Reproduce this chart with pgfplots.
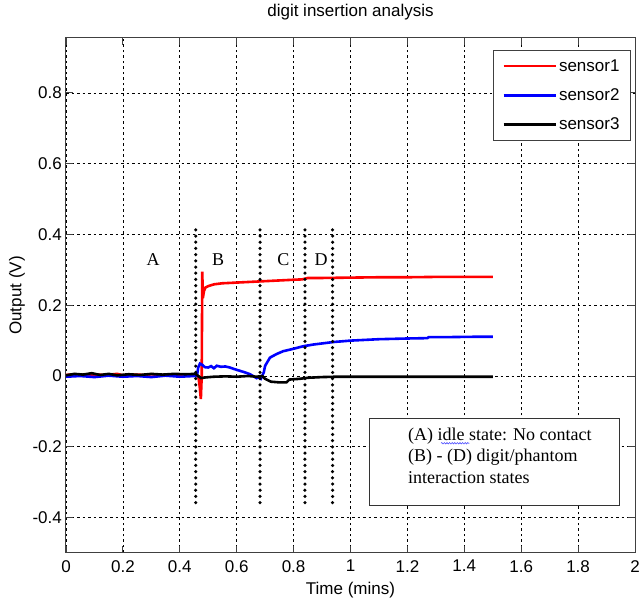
\documentclass[border=0pt]{standalone}
\usepackage{fontspec}
\setmainfont{Liberation Sans}
\newfontfamily\timesfont{Liberation Serif}
\usepackage{pgfplots}
\pgfplotsset{compat=1.18}
\usetikzlibrary{decorations.pathmorphing}

\definecolor{sred}{RGB}{255,0,0}
\definecolor{sblue}{RGB}{0,0,255}

\begin{document}
\begin{tikzpicture}
\begin{axis}[
    scale only axis,
    width=569pt, height=515pt,
    xmin=0, xmax=2, ymin=-0.5, ymax=0.955,
    xtick={0,0.2,...,2.01},
    ytick={-0.4,-0.2,0,0.2,0.4,0.6,0.8},
    /pgf/number format/assume math mode=true,
    tick label style={font=\fontsize{17}{17}\selectfont},
    xticklabel style={inner sep=0pt, yshift=-7pt},
    yticklabel style={inner sep=0pt, xshift=-4pt},
    tick align=inside,
    major tick length=7pt,
    tick style={black!75, line width=0.9pt},
    axis line style={black!75, line width=1pt},
    grid=major,
    major grid style={black, line width=0.7pt, dash pattern=on 2.5pt off 3pt},
    title={digit insertion analysis},
    title style={font=\fontsize{17}{17}\selectfont, at={(axis description cs:0.5,1.0388)}, anchor=center, inner sep=0pt},
    xlabel={Time (mins)},
    xlabel style={font=\fontsize{17}{17}\selectfont, at={(axis description cs:0.5,-0.0718)}, anchor=center, inner sep=0pt},
    ylabel={Output (V)},
    ylabel style={font=\fontsize{17}{17}\selectfont, at={(axis description cs:-0.0861,0.5)}, anchor=center, rotate=0, inner sep=0pt},
    legend image code/.code={\draw[#1] (0pt,0pt) -- (52pt,0pt);},
    legend style={draw=black!75, line width=1pt, fill=white,
        at={(rel axis cs:0.993,0.977)}, anchor=north east,
        font=\fontsize{17}{17}\selectfont,
        inner xsep=9pt, inner ysep=7pt, row sep=12pt,
        nodes={inner sep=2pt}},
    legend cell align=left,
]
% sensor1
\addplot[sred, line width=2.6pt] coordinates {
(0,0.003) (0.03,0.005) (0.06,0.002) (0.1,0.004) (0.14,0.003) (0.18,0.006)
(0.2,0.002) (0.24,0.004) (0.28,0.003) (0.3,0.005) (0.34,0.002) (0.38,0.004)
(0.42,0.003) (0.455,0.004) (0.465,0.0) (0.47,-0.03) (0.474,-0.065) (0.477,0.0)
(0.479,0.295) (0.481,0.22) (0.485,0.24) (0.49,0.25) (0.5,0.254) (0.52,0.259)
(0.55,0.262) (0.6,0.264) (0.65,0.266) (0.7,0.268) (0.75,0.27) (0.8,0.272)
(0.83,0.273) (0.85,0.277) (0.9,0.277) (1.0,0.278) (1.1,0.279) (1.2,0.279)
(1.3,0.28) (1.4,0.28) (1.5,0.28)};
% sensor2
\addplot[sblue, line width=2.6pt] coordinates {
(0,-0.002) (0.05,0.0) (0.1,-0.003) (0.15,0.001) (0.2,-0.002) (0.25,0.0)
(0.3,-0.003) (0.35,0.001) (0.4,-0.002) (0.45,0.0) (0.46,0.0) (0.465,0.025)
(0.471,0.035) (0.48,0.031) (0.488,0.025) (0.5,0.024) (0.51,0.028) (0.52,0.022)
(0.53,0.029) (0.545,0.026) (0.56,0.027) (0.576,0.024) (0.59,0.02) (0.61,0.015)
(0.63,0.01) (0.647,0.005) (0.67,-0.006) (0.675,-0.004) (0.685,-0.008)
(0.695,0.01) (0.70,0.029) (0.717,0.052) (0.74,0.062) (0.763,0.07) (0.8,0.077)
(0.833,0.084) (0.87,0.089) (0.9,0.092) (0.94,0.096) (1.0,0.1) (1.05,0.102)
(1.1,0.104) (1.15,0.105) (1.2,0.106) (1.27,0.107) (1.275,0.11) (1.35,0.11)
(1.45,0.111) (1.5,0.111)};
% sensor3
\addplot[black, line width=2.6pt] coordinates {
(0,0.002) (0.03,0.006) (0.06,0.004) (0.09,0.008) (0.12,0.003) (0.15,0.006)
(0.18,0.002) (0.22,0.005) (0.26,0.003) (0.3,0.006) (0.34,0.004) (0.38,0.006)
(0.42,0.005) (0.455,0.006) (0.465,0.0) (0.475,-0.006) (0.49,-0.004)
(0.52,-0.002) (0.56,-0.001) (0.6,-0.002) (0.64,0.0) (0.67,-0.002) (0.69,0.0)
(0.70,-0.008) (0.72,-0.016) (0.75,-0.018) (0.775,-0.018) (0.785,-0.01)
(0.82,-0.008) (0.85,-0.005) (0.9,-0.003) (0.95,-0.002) (1.0,-0.002)
(1.2,-0.002) (1.5,-0.002)};
\legend{sensor1,sensor2,sensor3}
% phase separators
\addplot[forget plot, black, line width=3.5pt, line cap=round, dash pattern=on 0pt off 6.2pt] coordinates {(0.456,0.413) (0.456,-0.36)};
\addplot[forget plot, black, line width=3.5pt, line cap=round, dash pattern=on 0pt off 6.2pt] coordinates {(0.682,0.413) (0.682,-0.36)};
\addplot[forget plot, black, line width=3.5pt, line cap=round, dash pattern=on 0pt off 6.2pt] coordinates {(0.84,0.413) (0.84,-0.36)};
\addplot[forget plot, black, line width=3.5pt, line cap=round, dash pattern=on 0pt off 6.2pt] coordinates {(0.937,0.413) (0.937,-0.36)};
% phase letters
\node[font=\timesfont\fontsize{18}{18}\selectfont] at (axis cs:0.306,0.33) {A};
\node[font=\timesfont\fontsize{18}{18}\selectfont] at (axis cs:0.535,0.33) {B};
\node[font=\timesfont\fontsize{18}{18}\selectfont] at (axis cs:0.764,0.33) {C};
\node[font=\timesfont\fontsize{18}{18}\selectfont] at (axis cs:0.897,0.33) {D};
% annotation box
\draw[black!80, line width=1pt, fill=white] (axis cs:1.068,-0.121) rectangle (axis cs:1.947,-0.365);
\node[font=\timesfont\fontsize{18}{18}\selectfont, anchor=base west, inner sep=0pt] at (axis cs:1.202,-0.1826) {(A) idle state: No contact};
\node[font=\timesfont\fontsize{18}{18}\selectfont, anchor=base west, inner sep=0pt] at (axis cs:1.202,-0.2416) {(B) - (D) digit/phantom};
\node[font=\timesfont\fontsize{18}{18}\selectfont, anchor=base west, inner sep=0pt] at (axis cs:1.202,-0.3034) {interaction states};
\draw[blue!70, line width=0.6pt, decorate, decoration={snake, amplitude=0.7pt, segment length=2.6pt}] (axis cs:1.318,-0.19) -- (axis cs:1.418,-0.19);
\end{axis}
\pgfresetboundingbox
\path[use as bounding box] ([shift={(-66pt,-50pt)}]current axis.south west) rectangle ([shift={(9pt,38pt)}]current axis.north east);
\end{tikzpicture}
\end{document}
